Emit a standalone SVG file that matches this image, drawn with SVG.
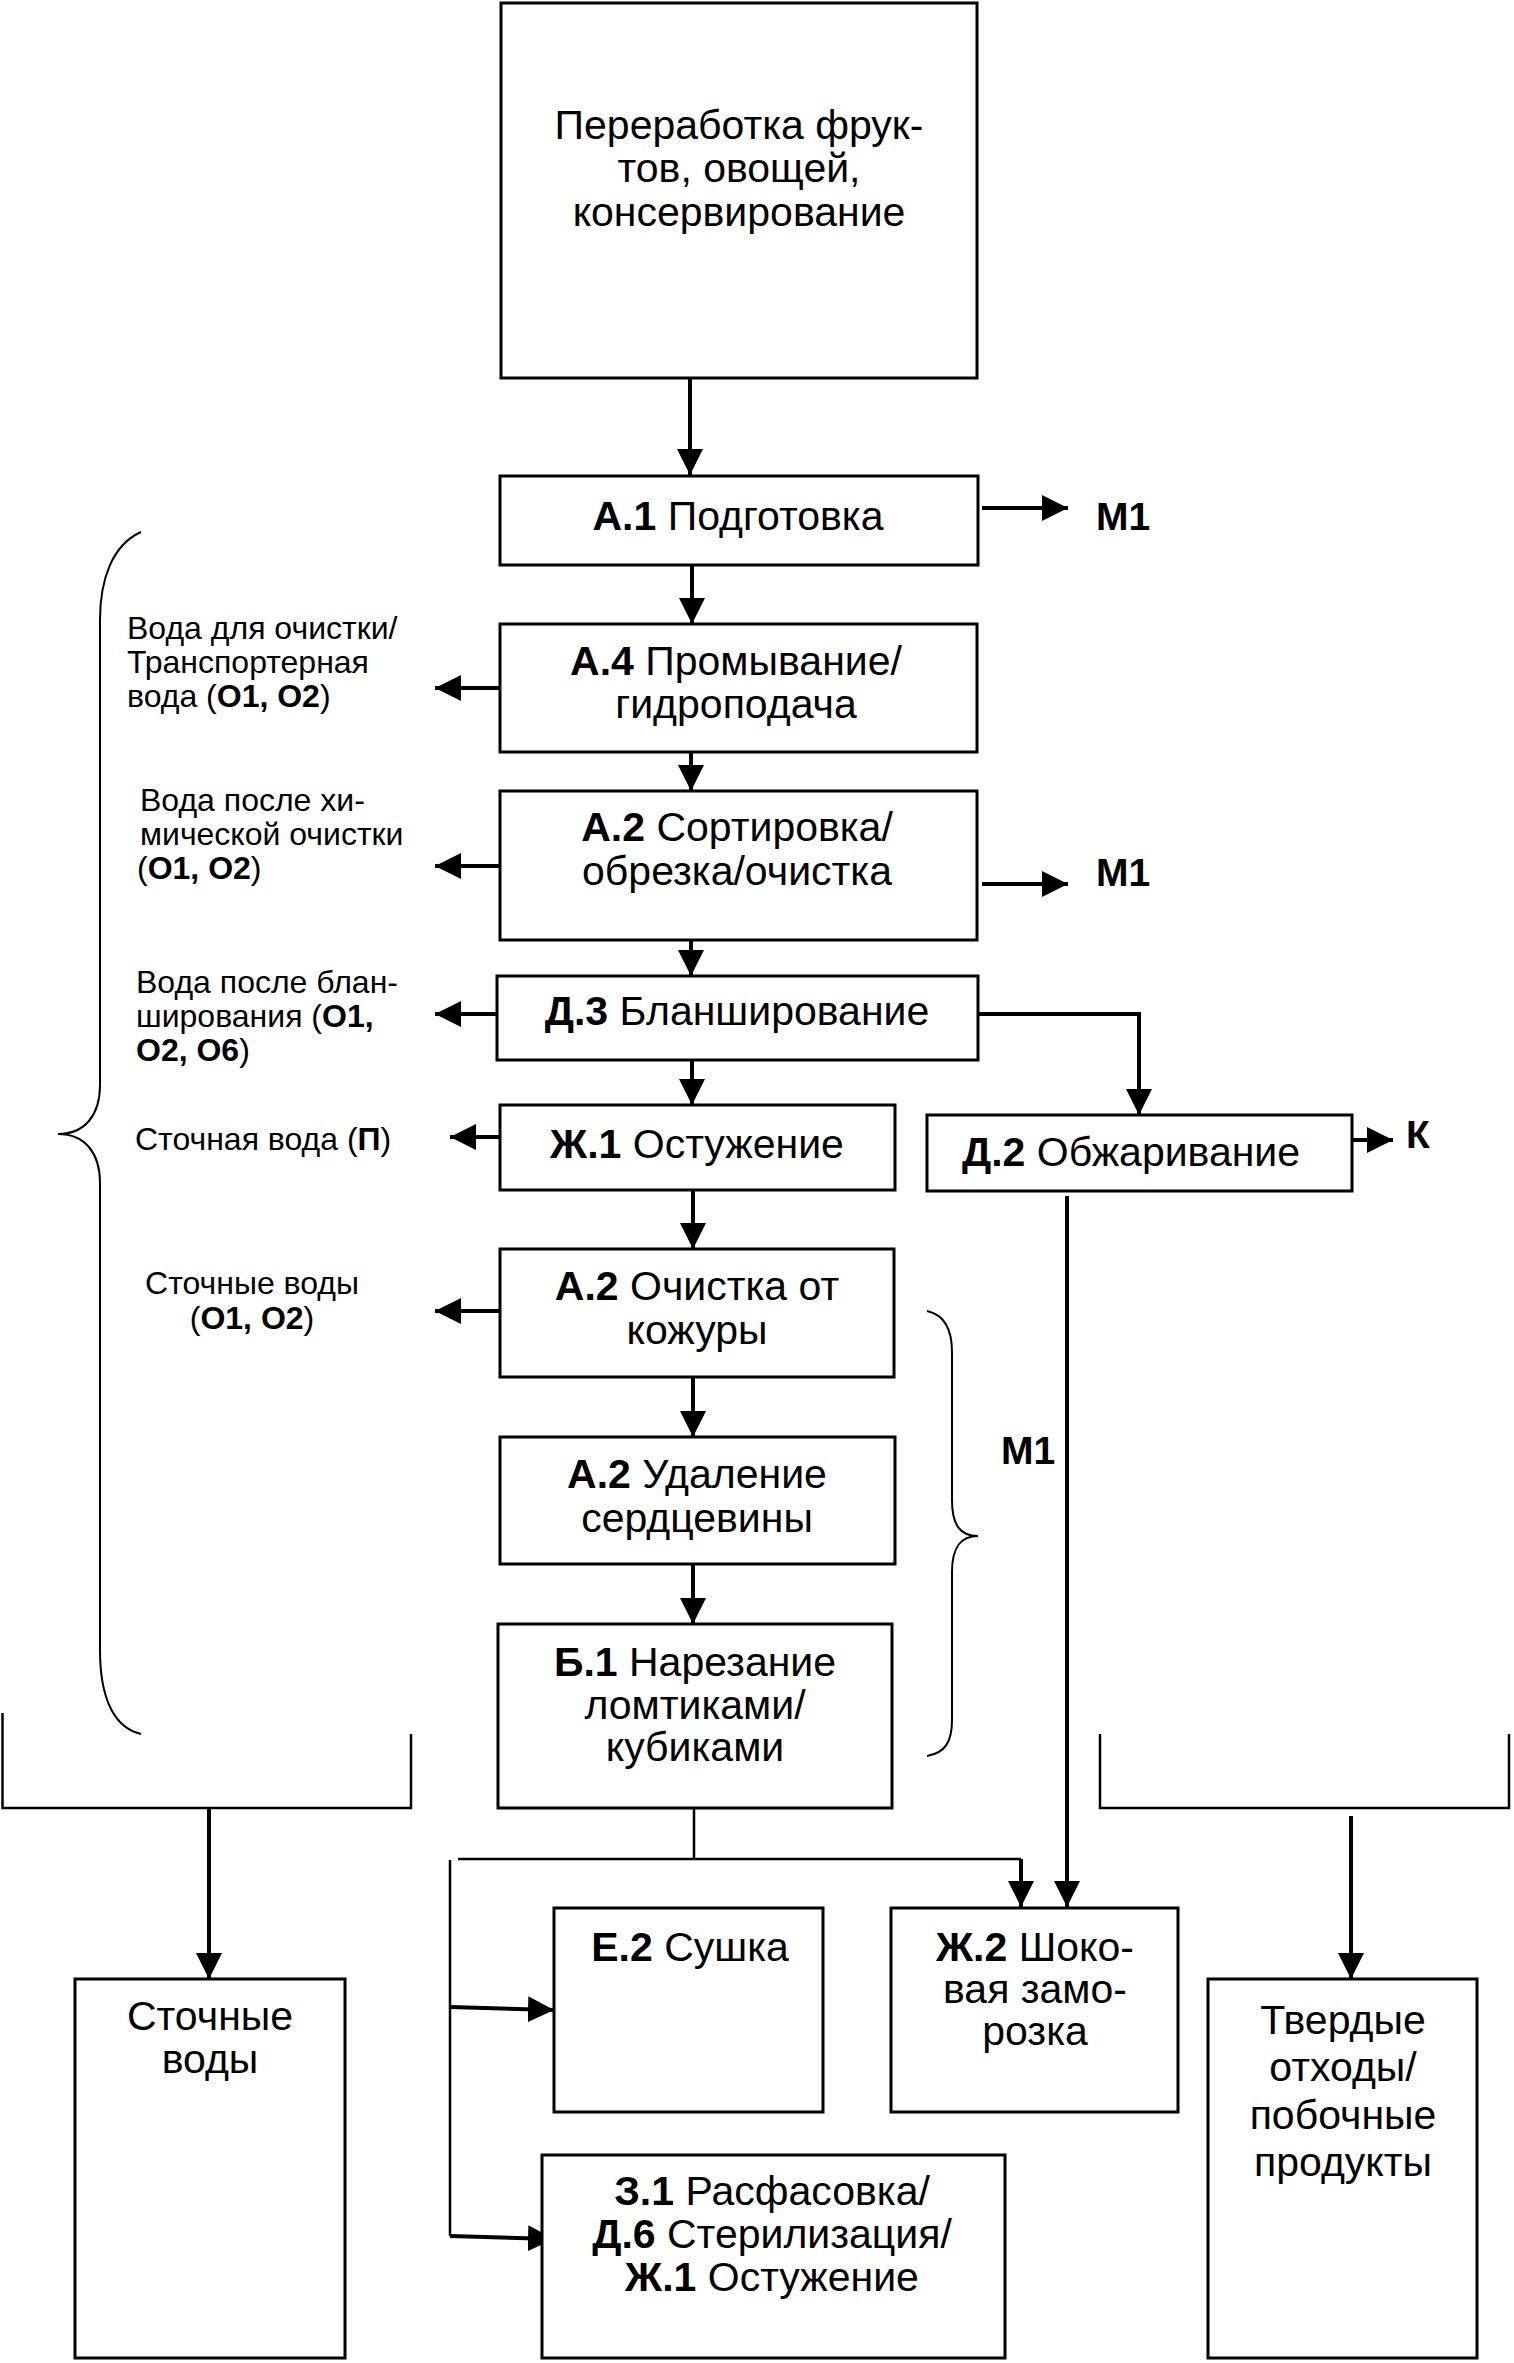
<svg xmlns="http://www.w3.org/2000/svg" width="1514" height="2363" viewBox="0 0 1514 2363">
<style>
text{font-family:"Liberation Sans",Arial,sans-serif;fill:#000}
.m{font-size:41px;text-anchor:middle}
.s{font-size:32px}
.sc{font-size:32px;text-anchor:middle}
.b{font-weight:bold}
.box{fill:#fff;stroke:#000;stroke-width:3}
.c{fill:none;stroke:#000;stroke-width:4}
.t{fill:none;stroke:#000;stroke-width:2.5}
.br{fill:none;stroke:#000;stroke-width:2}
.lbl{font-size:39px;font-weight:bold}
</style>
<defs>
<marker id="ah" markerUnits="userSpaceOnUse" markerWidth="26" markerHeight="26" refX="26" refY="13" orient="auto">
<path d="M0,0 L26,13 L0,26 z" fill="#000"/>
</marker>
</defs>
<rect width="1514" height="2363" fill="#fff"/>

<g id="connectors">
<path class="c" d="M690,378 V475" marker-end="url(#ah)"/>
<path class="c" d="M692,565 V624" marker-end="url(#ah)"/>
<path class="c" d="M691,752 V791" marker-end="url(#ah)"/>
<path class="c" d="M691,927 V976" marker-end="url(#ah)"/>
<path class="c" d="M692,1060 V1105" marker-end="url(#ah)"/>
<path class="c" d="M693,1190 V1249" marker-end="url(#ah)"/>
<path class="c" d="M693,1377 V1437" marker-end="url(#ah)"/>
<path class="c" d="M693,1564 V1624" marker-end="url(#ah)"/>
<path class="c" d="M982,508 H1068" marker-end="url(#ah)"/>
<path class="c" d="M982,884 H1068" marker-end="url(#ah)"/>
<path class="c" d="M1352,1140 H1393" marker-end="url(#ah)"/>
<path class="c" d="M500,688 H435" marker-end="url(#ah)"/>
<path class="c" d="M500,866 H435" marker-end="url(#ah)"/>
<path class="c" d="M497,1014 H435" marker-end="url(#ah)"/>
<path class="c" d="M500,1137 H450" marker-end="url(#ah)"/>
<path class="c" d="M500,1311 H435" marker-end="url(#ah)"/>
<path class="c" d="M978,1014 H1139 V1115" marker-end="url(#ah)"/>
<path class="c" d="M1067,1196 V1907" marker-end="url(#ah)"/>
<path class="t" d="M694,1808 V1859"/>
<path class="t" d="M458,1859 H1021"/>
<path class="c" d="M1021,1859 V1907" marker-end="url(#ah)"/>
<path class="t" d="M450,1860 V2236"/>
<path class="c" d="M450,2007 L554,2010" marker-end="url(#ah)"/>
<path class="c" d="M450,2236 L554,2239" marker-end="url(#ah)"/>
<path class="t" d="M2.5,1713 V1808 H411 V1734"/>
<path class="t" d="M1100,1734 V1808 H1509 V1734"/>
<path class="c" d="M209,1808 V1979" marker-end="url(#ah)"/>
<path class="c" d="M1351,1816 V1979" marker-end="url(#ah)"/>
<path class="br" d="M141,532 C112,545 100,580 100,620 L100,1085 C100,1115 85,1134 58,1134 C85,1134 100,1153 100,1183 L100,1650 C100,1700 115,1728 141,1734"/>
<path class="br" d="M927,1311 C945,1315 952,1330 952,1352 L952,1500 C952,1525 960,1536 978,1536 C960,1536 952,1548 952,1572 L952,1720 C952,1742 945,1753 927,1756"/>
</g>

<g id="labels">
<text class="s" x="127" y="639">Вода для очистки/</text>
<text class="s" x="127" y="673">Транспортерная</text>
<text class="s" x="127" y="707">вода (<tspan class="b">О1, О2</tspan>)</text>
<text class="s" x="140" y="811">Вода после хи-</text>
<text class="s" x="140" y="845">мической очистки</text>
<text class="s" x="137" y="879">(<tspan class="b">О1, О2</tspan>)</text>
<text class="s" x="136" y="993">Вода после блан-</text>
<text class="s" x="136" y="1027">ширования (<tspan class="b">О1,</tspan></text>
<text class="s" x="136" y="1061"><tspan class="b">О2, О6</tspan>)</text>
<text class="s" x="135" y="1150">Сточная вода (<tspan class="b">П</tspan>)</text>
<text class="sc" x="252" y="1294">Сточные воды</text>
<text class="sc" x="252" y="1329">(<tspan class="b">О1, О2</tspan>)</text>
<text class="lbl" x="1096" y="530">М1</text>
<text class="lbl" x="1096" y="886">М1</text>
<text class="lbl" x="1001" y="1464">М1</text>
<text class="lbl" x="1406" y="1148">К</text>
</g>

<g id="n-top">
<rect class="box" x="501" y="3" width="476" height="375"/>
<text class="m" x="739" y="139">Переработка фрук-</text>
<text class="m" x="739" y="182">тов, овощей,</text>
<text class="m" x="739" y="226">консервирование</text>
</g>
<g id="n-a1">
<rect class="box" x="500" y="476" width="478" height="89"/>
<text class="m" x="738" y="530"><tspan class="b">А.1</tspan> Подготовка</text>
</g>
<g id="n-a4">
<rect class="box" x="500" y="624" width="477" height="128"/>
<text class="m" x="736" y="675"><tspan class="b">А.4</tspan> Промывание/</text>
<text class="m" x="736" y="718">гидроподача</text>
</g>
<g id="n-a2-sort">
<rect class="box" x="500" y="791" width="477" height="149"/>
<text class="m" x="737" y="841"><tspan class="b">А.2</tspan> Сортировка/</text>
<text class="m" x="737" y="885">обрезка/очистка</text>
</g>
<g id="n-d3">
<rect class="box" x="497" y="976" width="481" height="84"/>
<text class="m" x="737" y="1025"><tspan class="b">Д.3</tspan> Бланширование</text>
</g>
<g id="n-zh1">
<rect class="box" x="500" y="1105" width="395" height="85"/>
<text class="m" x="697" y="1158"><tspan class="b">Ж.1</tspan> Остужение</text>
</g>
<g id="n-d2">
<rect class="box" x="927" y="1115" width="425" height="76"/>
<text class="m" x="1131" y="1166"><tspan class="b">Д.2</tspan> Обжаривание</text>
</g>
<g id="n-a2-peel">
<rect class="box" x="500" y="1249" width="394" height="128"/>
<text class="m" x="697" y="1300"><tspan class="b">А.2</tspan> Очистка от</text>
<text class="m" x="697" y="1344">кожуры</text>
</g>
<g id="n-a2-core">
<rect class="box" x="500" y="1437" width="395" height="127"/>
<text class="m" x="697" y="1488"><tspan class="b">А.2</tspan> Удаление</text>
<text class="m" x="697" y="1532">сердцевины</text>
</g>
<g id="n-b1">
<rect class="box" x="498" y="1624" width="394" height="184"/>
<text class="m" x="695" y="1676"><tspan class="b">Б.1</tspan> Нарезание</text>
<text class="m" x="695" y="1719">ломтиками/</text>
<text class="m" x="695" y="1761">кубиками</text>
</g>
<g id="n-e2">
<rect class="box" x="554" y="1908" width="269" height="204"/>
<text class="m" x="690" y="1961"><tspan class="b">Е.2</tspan> Сушка</text>
</g>
<g id="n-zh2">
<rect class="box" x="891" y="1908" width="287" height="204"/>
<text class="m" x="1035" y="1961"><tspan class="b">Ж.2</tspan> Шоко-</text>
<text class="m" x="1035" y="2003">вая замо-</text>
<text class="m" x="1035" y="2045">розка</text>
</g>
<g id="n-z1">
<rect class="box" x="542" y="2155" width="463" height="203"/>
<text class="m" x="772" y="2205"><tspan class="b">З.1</tspan> Расфасовка/</text>
<text class="m" x="772" y="2248"><tspan class="b">Д.6</tspan> Стерилизация/</text>
<text class="m" x="772" y="2291"><tspan class="b">Ж.1</tspan> Остужение</text>
</g>
<g id="n-waste-water">
<rect class="box" x="75" y="1979" width="270" height="379"/>
<text class="m" x="210" y="2030">Сточные</text>
<text class="m" x="210" y="2073">воды</text>
</g>
<g id="n-solid">
<rect class="box" x="1208" y="1979" width="269" height="379"/>
<text class="m" x="1343" y="2034">Твердые</text>
<text class="m" x="1343" y="2081">отходы/</text>
<text class="m" x="1343" y="2129">побочные</text>
<text class="m" x="1343" y="2176">продукты</text>
</g>
</svg>
